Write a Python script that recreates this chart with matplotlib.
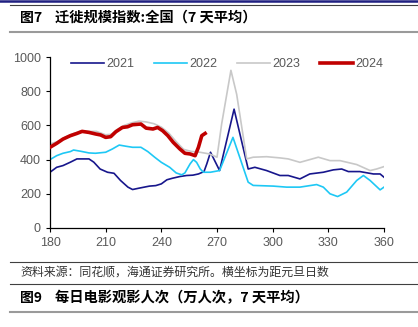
import matplotlib.pyplot as plt
from matplotlib.lines import Line2D

plt.rcParams["font.family"] = ["Liberation Sans", "Noto Sans CJK SC", "DejaVu Sans"]

# 横坐标：距元旦日数
x2021 = [180, 183.6, 187, 191, 194.5, 197, 201, 203.6, 207, 211, 214.5, 218, 222, 224.5,
         228, 233.6, 237, 240, 243, 246, 250, 253.6, 257, 260, 263, 264.5, 266.5, 271.4,
         279.2, 286.8, 290.4, 296.7, 303.9, 308.4, 314.7, 320, 327.3, 332.7, 337.2, 340.8,
         347, 354.3, 357.9, 360]
y2021 = [326, 355, 365, 385, 404, 404, 404, 385, 345, 326, 320, 278, 239, 225,
         233, 245, 248, 258, 282, 291, 301, 307, 309, 316, 330, 375, 443, 336,
         695, 345, 355, 336, 307, 307, 287, 316, 326, 340, 345, 330,
         330, 316, 316, 297]

x2022 = [180, 183.6, 187, 191, 192.7, 196.4, 201, 204.5, 210, 213.6, 217.3, 221, 224.5,
         229, 232.7, 236.4, 240, 244.5, 248, 251, 252.7, 255.5, 257.3, 259, 261, 262.7,
         266.4, 271.4, 278.6, 286.8, 289.5, 300.3, 307.5, 314.7, 323.7, 327.3, 330.9,
         335, 339.9, 345.3, 348.9, 352.5, 357.9, 360]
y2022 = [400, 423, 437, 447, 456, 449, 439, 437, 443, 462, 485, 478, 472,
         472, 447, 414, 384, 355, 322, 311, 322, 375, 400, 384, 345, 326,
         326, 336, 530, 268, 249, 245, 239, 239, 254, 239, 200,
         184, 210, 278, 307, 278, 223, 239]

x2023 = [180, 184, 188, 192, 197, 201, 205, 210, 213, 216, 220, 224, 228, 232, 236,
         240, 244, 248, 252, 256, 260.8, 266, 270, 272.5, 277.5, 280.6, 286, 289.5,
         296.7, 303.9, 308.4, 314.7, 324.6, 330.9, 336.3, 345.3, 352.5, 356, 360]
y2023 = [491, 505, 530, 550, 568, 565, 565, 545, 548, 575, 600, 615, 625, 620, 610,
         590, 555, 505, 460, 448, 443, 433, 414, 608, 922, 782, 404, 414,
         417, 410, 404, 384, 414, 394, 394, 371, 336, 345, 359]

x2024 = [180, 183.6, 187, 191, 194.5, 197.3, 201, 204.5, 207.3, 210, 212.7, 215.5, 219,
         221.8, 224.5, 229, 231.8, 235.5, 238, 240.7, 243.5, 246.4, 250, 252.7, 255.5,
         258.2, 260, 261.8, 263.6]
y2024 = [472, 495, 520, 540, 553, 565, 559, 550, 544, 530, 534, 563, 588,
         592, 604, 608, 584, 579, 588, 569, 540, 501, 462, 437, 433,
         423, 472, 540, 553]

series = [
    ("2021", x2021, y2021, "#17168c", 1.2),
    ("2022", x2022, y2022, "#1ec8f5", 1.2),
    ("2023", x2023, y2023, "#c8c8c8", 1.2),
    ("2024", x2024, y2024, "#c00000", 2.6),
]
xticks = [180, 210, 240, 270, 300, 330, 360]
yticks = [0, 200, 400, 600, 800, 1000]

fig = plt.figure(figsize=(4.18, 3.27), dpi=100)
ax = fig.add_axes([50 / 418, 1 - 228 / 327, 334 / 418, 171 / 327])

for name, xs, ys, color, lw in series:
    ax.plot(xs, ys, color=color, linewidth=lw, label=name, zorder=3 if name == "2024" else 2)

ax.set_xlim(180, 360)
ax.set_ylim(0, 1000)
ax.set_xticks(xticks)
ax.set_yticks(yticks)
ax.tick_params(axis="both", length=3, width=0.8, colors="black", labelcolor="#595959",
               labelsize=9, direction="out")
for s in ["top", "right"]:
    ax.spines[s].set_visible(False)
for s in ["left", "bottom"]:
    ax.spines[s].set_linewidth(0.9)
    ax.spines[s].set_color("black")

ax.legend(loc="upper left", bbox_to_anchor=(0.03, 1.06), ncol=4, frameon=False,
          fontsize=9, handlelength=2.6, handletextpad=0.2, columnspacing=1.6,
          labelcolor="#595959")

# 页面装饰线与标题
fig.add_artist(Line2D([0, 1], [1 - 1 / 327, 1 - 1 / 327], color="#1f1f80", linewidth=1.8))
fig.add_artist(Line2D([10 / 418, 1], [1 - 5 / 327, 1 - 5 / 327], color="#404040", linewidth=0.8))
fig.add_artist(Line2D([10 / 418, 1], [1 - 32 / 327, 1 - 32 / 327], color="#9a9a9a", linewidth=1.5))
fig.add_artist(Line2D([10 / 418, 1], [1 - 262 / 327, 1 - 262 / 327], color="#404040", linewidth=0.8))
fig.add_artist(Line2D([10 / 418, 1], [1 - 284 / 327, 1 - 284 / 327], color="#404040", linewidth=0.8))
fig.add_artist(Line2D([10 / 418, 1], [1 - 312 / 327, 1 - 312 / 327], color="#9a9a9a", linewidth=1.5))

cjk = ["Noto Sans CJK SC", "DejaVu Sans"]
fig.text(20 / 418, 1 - 18 / 327, "图7", fontsize=10, fontweight="bold", family=cjk,
         va="center", color="black")
fig.text(55 / 418, 1 - 18 / 327, "迁徙规模指数:全国（7 天平均）", fontsize=10.3,
         fontweight="bold", family=cjk, va="center", color="black")
fig.text(20 / 418, 1 - 272 / 327, "资料来源：同花顺，海通证券研究所。横坐标为距元旦日数",
         fontsize=8.6, family=cjk, va="center", color="#333333")
fig.text(20 / 418, 1 - 298 / 327, "图9", fontsize=10, fontweight="bold", family=cjk,
         va="center", color="black")
fig.text(55 / 418, 1 - 298 / 327, "每日电影观影人次（万人次，7 天平均）", fontsize=10.3,
         fontweight="bold", family=cjk, va="center", color="black")

fig.savefig("out.png", dpi=100)
